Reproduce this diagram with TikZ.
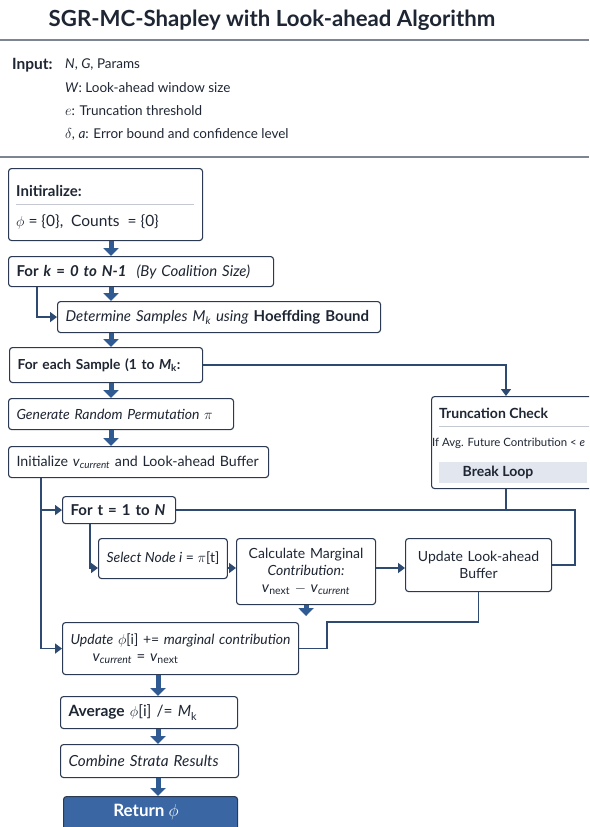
\documentclass[tikz,border=0pt]{standalone}
\usepackage{fontspec}
\setmainfont{Lato}
\usetikzlibrary{arrows.meta,positioning,calc}

\definecolor{boxline}{HTML}{2B3A52}
\definecolor{ink}{HTML}{1F2633}
\definecolor{conncol}{HTML}{2E4A70}
\definecolor{arrowblue}{HTML}{2F5B92}
\definecolor{rulegray}{HTML}{7D8592}
\definecolor{sepgray}{HTML}{C4C9D1}
\definecolor{retblue}{HTML}{3A67A3}
\definecolor{breakfill}{HTML}{E1E6EF}

\newcommand{\body}{\fontsize{14}{17}\selectfont}
\newcommand{\fsz}[1]{\fontsize{#1}{#1}\selectfont}

\tikzset{
  box/.style={draw=boxline, fill=white, rounded corners=3pt, line width=1.1pt,
    inner xsep=8pt, inner ysep=0pt, anchor=north west, text=ink, font=\body},
  txt/.style={anchor=west, inner sep=0pt, text=ink, font=\fsz{13.5}},
  sepline/.style={draw=sepgray, line width=0.8pt},
  conn/.style={draw=conncol, line width=1.6pt, -{Triangle[width=10pt,length=7pt]}},
  wire/.style={draw=conncol, line width=1.6pt},
  blk/.style={draw=arrowblue, line width=5pt, -{Triangle[width=15pt,length=8pt]}},
}

\begin{document}
\begin{tikzpicture}[x=1pt, y=-1pt]

% Canvas
\useasboundingbox (0,0) rectangle (589,827);
\clip (0,0) rectangle (589,827);
\fill[white] (0,0) rectangle (589,827);

% Title
\node[text=ink] (title) at (272,20) {\fsz{22.2}\bfseries SGR-MC-Shapley with Look-ahead Algorithm};
\draw[rulegray, line width=1.6pt] (0,40) -- (589,40);

% Inputs
\node[txt, font=\fsz{15.5}\bfseries] (inlabel) at (12,65) {Input:};
\node[txt] (in1) at (65,65) {\textit{N}, \textit{G}, Params};
\node[txt] (in2) at (65,88) {\textit{W}: Look-ahead window size};
\node[txt] (in3) at (65,111) {$e$: Truncation threshold};
\node[txt] (in4) at (65,134) {$\delta$, \textit{a}: Error bound and confidence level};
\draw[rulegray, line width=1.4pt] (0,157) -- (589,157);

% Initialisation
\node[box, text width=178pt, minimum height=72pt] (init) at (8,168) {};
\node[txt, font=\fsz{15}\bfseries] (inithead) at (16,191) {Initiralize:};
\draw[sepline] (16,204) -- (194,204);
\node[txt, font=\fsz{15.5}] (initval) at (16,222) {$\phi$ = \{0\},\ \ Counts\ \ = \{0\}};

% Outer loop
\node[box, text width=249pt, minimum height=30pt, font=\fsz{15}] (fork) at (8,256)
  {\textbf{For \textit{k} = \textit{0 to N-1}}\ \ \textit{(By Coalition Size)}};
\node[box, text width=307pt, minimum height=31pt, font=\fsz{15}] (determ) at (57,301)
  {\textit{Determine Samples M\textsubscript{k} using} \textbf{Hoeffding Bound}};
\node[box, text width=177pt, minimum height=35pt, font=\fsz{13.8}] (foreach) at (9,347)
  {\textbf{For each Sample (1 to \textit{M}\textsubscript{k}:}};
\node[box, text width=209pt, minimum height=31pt] (genperm) at (8,398)
  {\textit{Generate Random Permutation} $\pi$};
\node[box, text width=244pt, minimum height=31pt, font=\fsz{14.2}] (initv) at (8,446)
  {Initialize \textit{v}\textsubscript{\textit{current}} and Look-ahead Buffer};

% Truncation check
\node[box, text width=159pt, minimum height=92pt] (trunc) at (431,396) {};
\node[txt, font=\fsz{14}\bfseries] (trunchead) at (439,413) {Truncation Check};
\draw[sepline] (439,426) -- (600,426);
\node[txt, font=\fsz{11.4}] (truncif) at (432,443) {If Avg. Future Contribution < \textit{e}};
\fill[breakfill] (439,462) rectangle (587,483);
\node[text=ink, font=\fsz{14}\bfseries] (brk) at (498,472) {Break Loop};

% Inner loop
\node[box, text width=97pt, minimum height=27pt, font=\fsz{15}] (fort) at (62,496)
  {\textbf{For t = 1 to \textit{N}}};
\node[box, minimum width=127pt, minimum height=40pt] (select) at (98,538)
  {\textit{Select Node i} = $\pi$[t]};
\node[box, text width=123pt, minimum height=66pt, align=center] (calc) at (236,538)
  {Calculate Marginal\\ \textit{Contribution:}\\ \fsz{15}\textit{v}\textsubscript{next} $-$ \textit{v}\textsubscript{\textit{current}}};
\node[box, text width=130pt, minimum height=53pt, align=center] (updla) at (405,538)
  {Update Look-ahead\\ Buffer};
\node[box, text width=220pt, minimum height=52pt] (updphi) at (62,622)
  {\textit{Update} $\phi$[i] += \textit{marginal contribution}\\
   \hspace*{22pt}\fsz{15}\textit{v}\textsubscript{\textit{current}} = \textit{v}\textsubscript{next}};

% Finish
\node[box, text width=161pt, minimum height=32pt, font=\fsz{15.5}] (avg) at (60,696)
  {\textbf{Average} $\phi$[i] /= \textit{M}\textsubscript{k}};
\node[box, text width=162pt, minimum height=33pt, font=\fsz{15.3}] (combine) at (60,744)
  {\textit{Combine Strata Results}};
\node[box, fill=retblue, text width=158pt, minimum height=50pt] (ret) at (63,796) {};
\node[text=white, font=\fsz{17}\bfseries] (rettext) at (146,812) {Return $\phi$};

% Guide coordinates
\coordinate (mainx) at (111,0);
\coordinate (forkx) at (37,0);
\coordinate (truncx) at (506,0);
\coordinate (loopx) at (575,0);
\coordinate (leftx) at (41,0);
\coordinate (selx) at (90,0);
\coordinate (rowy) at (0,568);
\coordinate (jog) at (327,622);
\coordinate (lowx) at (158,0);

% Main column arrows
\draw[blk] (init.south -| mainx) -- (fork.north -| mainx);
\draw[blk] (fork.south -| mainx) -- (determ.north -| mainx);
\draw[blk] (determ.south -| mainx) -- (foreach.north -| mainx);
\draw[blk] (foreach.south -| mainx) -- (genperm.north -| mainx);
\draw[blk] (genperm.south -| mainx) -- (initv.north -| mainx);
\draw[conn] (fork.south -| forkx) |- (determ.west);

% Truncation wiring
\draw[conn] (foreach.east) -| (trunc.north -| truncx);
\draw[wire] (trunc.south -| truncx) -- (fort.east -| truncx);
\draw[wire] (fort.east) -| (updla.east -| loopx) -- (updla.east);

% Inner loop wiring
\draw[conn] (initv.south -| leftx) |- (fort.west);
\draw[conn] (initv.south -| leftx) |- (updphi.west);
\draw[conn] (fort.south -| selx) |- (select.west |- rowy);
\draw[conn] (select.east |- rowy) -- (calc.west |- rowy);
\draw[conn] (calc.east |- rowy) -- (updla.west |- rowy);
\draw[blk, shorten >=6pt] (calc.south) -- (calc.south |- updphi.north);
\draw[wire] (updla.south) |- (jog) |- (updphi.east);

% Bottom arrows
\draw[blk] (updphi.south -| lowx) -- (avg.north -| lowx);
\draw[blk] (avg.south -| lowx) -- (combine.north -| lowx);
\draw[blk] (combine.south -| lowx) -- (ret.north -| lowx);

\end{tikzpicture}
\end{document}
